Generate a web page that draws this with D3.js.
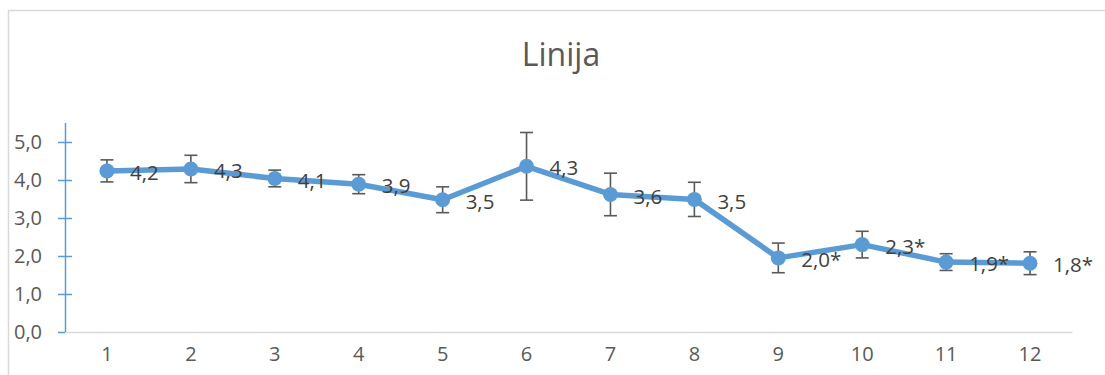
<!DOCTYPE html>
<html>
<head>
<meta charset="utf-8">
<script src="https://cdn.jsdelivr.net/npm/d3@7"></script>
<style>
  body { margin: 0; background: #fff; }
  svg text { font-family: "Open Sans", sans-serif; }
</style>
</head>
<body>
<div id="chart"></div>
<script>
const categories = ["1", "2", "3", "4", "5", "6", "7", "8", "9", "10", "11", "12"];
const values = [4.24, 4.29, 4.04, 3.89, 3.48, 4.36, 3.62, 3.49, 1.95, 2.30, 1.84, 1.81];
const errors = [0.29, 0.36, 0.22, 0.25, 0.34, 0.89, 0.56, 0.45, 0.39, 0.35, 0.22, 0.30];
const labels = ["4,2", "4,3", "4,1", "3,9", "3,5", "4,3", "3,6", "3,5", "2,0*", "2,3*", "1,9*", "1,8*"];
const yTicks = [0, 1, 2, 3, 4, 5];

const width = 1105, height = 375;
const margin = { top: 123, right: 33, bottom: 43, left: 65 };
const blue = "#5b9bd5";

const svg = d3.select("#chart").append("svg")
  .attr("width", width)
  .attr("height", height);

// chart border (only left and top visible)
svg.append("path")
  .attr("d", `M8.5,${height} V10.5 H${width}`)
  .attr("fill", "none")
  .attr("stroke", "#d9d9d9")
  .attr("stroke-width", 1.5);

svg.append("text")
  .attr("x", 561)
  .attr("y", 66)
  .attr("text-anchor", "middle")
  .attr("fill", "#595959")
  .style("font-size", "32px")
  .text("Linija");

const x = d3.scaleBand()
  .domain(categories)
  .range([margin.left, width - margin.right]);

const y = d3.scaleLinear()
  .domain([0, 5.5])
  .range([height - margin.bottom, margin.top]);

const cx = d => x(d) + x.bandwidth() / 2;

// x axis
const xAxis = svg.append("g")
  .attr("transform", `translate(0,${y(0)})`)
  .call(d3.axisBottom(x).tickSize(0).tickPadding(15));
xAxis.select(".domain").attr("stroke", "#d9d9d9").attr("stroke-width", 1.5);
xAxis.selectAll("text").attr("fill", "#595959").style("font-size", "20px");

// y axis
const yAxis = svg.append("g")
  .attr("transform", `translate(${margin.left},0)`)
  .call(d3.axisLeft(y).tickValues(yTicks).tickSize(7).tickPadding(16)
    .tickFormat(d => d3.format(".1f")(d).replace(".", ",")));
yAxis.select(".domain").attr("d", `M0.5,${y(0)}V${margin.top}`).attr("stroke", blue).attr("stroke-width", 1.5);
yAxis.selectAll(".tick line").attr("stroke", blue).attr("stroke-width", 1.5).attr("x2", d => d === 0 ? 0 : 7).attr("x1", -7);
yAxis.selectAll("text").attr("fill", "#595959").style("font-size", "20px");

const data = categories.map((c, i) => ({ c, v: values[i], e: errors[i], label: labels[i] }));

// line
svg.append("path")
  .datum(data)
  .attr("fill", "none")
  .attr("stroke", blue)
  .attr("stroke-width", 5.5)
  .attr("stroke-linejoin", "round")
  .attr("d", d3.line().x(d => cx(d.c)).y(d => y(d.v)));

// error bars
const eb = svg.append("g").attr("stroke", "#595959").attr("stroke-width", 1.6);
data.forEach(d => {
  const px = cx(d.c);
  eb.append("line").attr("x1", px).attr("x2", px).attr("y1", y(d.v + d.e)).attr("y2", y(d.v - d.e));
  eb.append("line").attr("x1", px - 6.5).attr("x2", px + 6.5).attr("y1", y(d.v + d.e)).attr("y2", y(d.v + d.e));
  eb.append("line").attr("x1", px - 6.5).attr("x2", px + 6.5).attr("y1", y(d.v - d.e)).attr("y2", y(d.v - d.e));
});

// markers
svg.selectAll(".dot")
  .data(data)
  .enter()
  .append("circle")
  .attr("class", "dot")
  .attr("cx", d => cx(d.c))
  .attr("cy", d => y(d.v))
  .attr("r", 7.5)
  .attr("fill", blue);

// data labels
svg.selectAll(".lbl")
  .data(data)
  .enter()
  .append("text")
  .attr("class", "lbl")
  .attr("x", d => cx(d.c) + 23)
  .attr("y", d => y(d.v) + 2)
  .attr("dy", "0.35em")
  .attr("fill", "#404040")
  .style("font-size", "20.5px")
  .text(d => d.label);
</script>
</body>
</html>
